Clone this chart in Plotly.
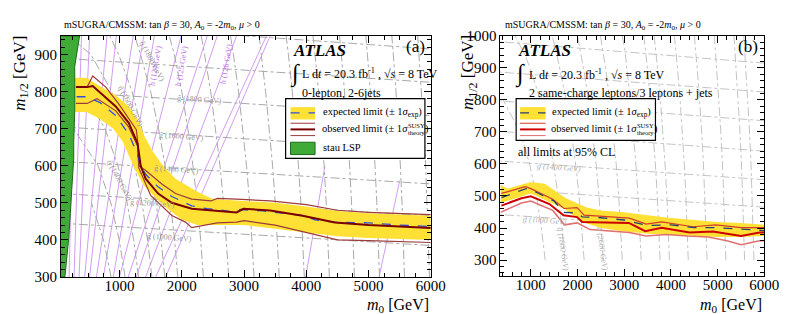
import plotly.graph_objects as go

W, H = 789, 314

# ---------------- Panel (a) data ----------------
a_exp_m0 = [310, 470, 680, 940, 1150, 1290, 1340, 1420, 1620, 1840, 2160, 2410, 2570, 2790, 2940, 3310, 3940, 4140, 4460, 4990, 5510, 6000]
a_exp_m12 = [786, 786, 771, 735, 685, 630, 600, 577, 543, 517, 492, 484, 482, 476, 482, 478, 466, 454, 448, 446, 440, 436]
a_bandup_m0 = [280, 470, 680, 940, 1150, 1300, 1400, 1530, 1700, 1900, 2250, 2500, 3000, 3500, 4000, 4500, 5000, 5500, 6000]
a_bandup_m12 = [837, 837, 815, 790, 760, 722, 680, 640, 600, 565, 530, 510, 505, 500, 490, 478, 472, 468, 465]
a_banddn_m0 = [280, 470, 680, 900, 1050, 1150, 1250, 1400, 1600, 1800, 2000, 2250, 2500, 3000, 3500, 4000, 4500, 5000, 5500, 6000]
a_banddn_m12 = [745, 745, 727, 700, 665, 630, 590, 545, 510, 480, 455, 440, 440, 440, 432, 420, 410, 405, 402, 400]
a_obs_m0 = [300, 480, 570, 700, 940, 1150, 1290, 1340, 1420, 1620, 1840, 2160, 2470, 2880, 2990, 3420, 3940, 4460, 5000, 5510, 6000]
a_obs_m12 = [812, 812, 815, 795, 760, 715, 660, 600, 565, 525, 500, 484, 479, 474, 484, 479, 465, 447, 440, 436, 432]
a_obsup_m0 = [300, 480, 570, 780, 990, 1150, 1270, 1300, 1310, 1420, 1680, 1900, 2160, 2470, 2570, 2880, 3420, 4000, 4500, 5000, 5510, 6000]
a_obsup_m12 = [812, 812, 842, 812, 766, 727, 697, 653, 600, 587, 551, 525, 510, 505, 512, 510, 505, 495, 480, 474, 471, 468]
a_obsdn_m0 = [300, 480, 640, 940, 1150, 1290, 1310, 1500, 1840, 2060, 2160, 2410, 2570, 2880, 3000, 3500, 4000, 4500, 5000, 5510, 6000]
a_obsdn_m12 = [768, 768, 781, 748, 704, 653, 594, 520, 466, 448, 433, 441, 446, 448, 452, 440, 420, 400, 398, 395, 393]
a_stau_m0 = [359, 281, 281, 265, 265, 233, 186, 123]
a_stau_m12 = [950, 868, 748, 663, 620, 535, 407, 300]

# Higgs mass contours (purple), [bottom, top] points
a_h_m0 = [[110, 155], [190, 280], [270, 390], [350, 520], [440, 800], [520, 950], [630, 1220], [740, 1390], [900, 1560], [1000, 1990], [1140, 2410], [1270, 2570], [1420, 2880], [1580, 3360], [1740, 3420], [3990, 4300], [5170, 5500]]
a_h_m12 = [[300, 950]] * 15 + [[300, 600], [300, 560]]
a_h_lab = [(1580, 870, "h (124 GeV)"), (2000, 870, "h (125 GeV)"), (2720, 875, "h (126 GeV)")]

# gluino iso-mass contours (grey dash-dot), [m0=60, m0=6000]
gl_m0 = [[60, 6000]] * 7
gl_m12 = [[445, 385], [525, 465], [612, 551], [705, 640], [800, 735], [890, 825], [985, 915]]
a_gl_lab = [(1800, 407, "1000"), (1530, 497, "1200"), (1910, 590, "1400"), (2000, 680, "1600"), (2280, 778, "1800")]
b_gl_lab = [(1300, 425, "1000"), (1600, 590, "1400")]

# squark iso-mass contours (grey dash-dot): m0 points at given m12 values
sq_m12 = [300, 400, 500, 600, 700, 800, 900, 950, 1000]
sq_curves = {
    1000: [865, 743, 548, None, None, None, None, None, None],
    1200: [1090, 995, 860, 656, 262, None, None, None, None],
    1400: [1307, 1227, 1122, 974, 767, 410, None, None, None],
    1600: [1520, 1451, 1361, 1240, 1086, 877, 540, 183, None],
    1800: [1728, 1667, 1587, 1485, 1359, 1202, 986, 844, 663],
    2000: [1936, 1885, 1817, 1732, 1627, 1500, 1338, 1245, 1095],
    2200: [2142, 2096, 2034, 1958, 1867, 1757, 1620, 1545, 1458],
    2400: [2347, 2304, 2248, 2180, 2097, 2000, 1880, 1796, 1720],
    2600: [2551, 2512, 2460, 2398, 2322, 2236, 2127, 2066, 2000],
    2800: [2755, 2719, 2672, 2614, 2545, 2465, 2366, 2322, 2260],
    3000: [2958, 2925, 2882, 2828, 2764, 2690, 2600, 2550, 2490],
    3200: [3161, 3130, 3090, 3040, 2980, 2912, 2830, 2793, 2735],
    3400: [3363, 3334, 3296, 3250, 3195, 3131, 3055, 3020, 2960],
    3600: [3565, 3538, 3502, 3459, 3407, 3347, 3276, 3244, 3190],
    3800: [3767, 3741, 3708, 3667, 3619, 3562, 3495, 3465, 3420],
    4000: [3968, 3944, 3913, 3874, 3829, 3776, 3713, 3671, 3640],
    4400: [4371, 4349, 4320, 4286, 4245, 4197, 4140, 4103, 4075],
    4800: [4774, 4753, 4727, 4696, 4658, 4614, 4563, 4530, 4505],
    5200: [5176, 5157, 5133, 5104, 5069, 5029, 4982, 4954, 4930],
    5600: [5577, 5560, 5538, 5511, 5479, 5441, 5398, 5374, 5350],
    5800: [5778, 5761, 5740, 5714, 5683, 5647, 5605, 5581, 5560],
    6000: [5979, 5962, 5942, 5917, 5887, 5852, 5812, 5790, 5770],
}
a_sq_masses = [1000, 1200, 1400, 1600, 1800, 2000, 2400, 2800, 3200, 3600, 4000, 4400, 4800, 5200, 5600, 6000]
a_sq_lab = [(1000, 560, "1400"), (1180, 760, "1600"), (1520, 880, "1800")]
b_sq_masses = [1400, 1800, 2200, 2600, 3000, 3400, 3800, 4000, 4400, 4800, 5200, 5600, 5800]
b_sq_lab = [(1680, 335, "1800"), (2520, 335, "2600")]

# ---------------- Panel (b) data ----------------
b_exp_m0 = [370, 900, 1000, 1500, 1700, 2000, 2100, 2500, 3000, 3500, 4000, 4500, 5000, 5500, 6000]
b_exp_m12 = [495, 523, 520, 484, 449, 447, 435, 432, 425, 408, 410, 401, 401, 396, 392]
b_bandup_m0 = [350, 500, 1000, 1300, 1750, 2200, 2500, 3000, 3500, 4000, 4500, 5000, 5500, 6000]
b_bandup_m12 = [535, 523, 544, 538, 493, 464, 455, 449, 440, 431, 425, 419, 416, 410]
b_banddn_m0 = [350, 1000, 1700, 2100, 2500, 3000, 3500, 4000, 4500, 5000, 5500, 6000]
b_banddn_m12 = [478, 508, 461, 419, 400, 389, 382, 378, 375, 372, 372, 375]
b_obs_m0 = [370, 800, 1000, 1400, 1700, 1990, 2100, 3100, 3450, 3800, 4400, 4900, 5500, 5900, 6000]
b_obs_m12 = [470, 493, 499, 475, 440, 434, 419, 416, 390, 401, 386, 389, 375, 386, 386]
b_obsup_m0 = [370, 880, 1000, 1470, 1710, 1990, 2140, 3110, 3470, 3800, 4470, 4960, 5500, 6000]
b_obsup_m12 = [508, 529, 523, 490, 461, 464, 440, 431, 412, 419, 404, 410, 401, 401]
b_obsdn_m0 = [350, 800, 1000, 1470, 1720, 1990, 2270, 3110, 3470, 3900, 4350, 4800, 5200, 5500, 5900, 6000]
b_obsdn_m12 = [449, 478, 484, 455, 410, 416, 395, 386, 375, 380, 375, 372, 360, 348, 360, 360]

FONT = "Liberation Serif"
YEL = "#ffe135"
GRAY_A = "#a8a8a8"
GRAY_B = "#c4c4c4"
PURP = "#d49cf2"

fig = go.Figure()


def line(x, y, xa, ya, color, width, dash="solid", fill=None, fillcolor=None):
    fig.add_trace(go.Scatter(x=x, y=y, xaxis=xa, yaxis=ya, mode="lines",
                             line=dict(color=color, width=width, dash=dash),
                             fill=fill, fillcolor=fillcolor, hoverinfo="skip",
                             showlegend=False, cliponaxis=True))


def squark(mass):
    pts = [(m0, m12) for m0, m12 in zip(sq_curves[mass], sq_m12) if m0 is not None]
    return [p[0] for p in pts], [p[1] for p in pts]


# ---- panel (a) background ----
for xs, ys in zip(a_h_m0, a_h_m12):
    line(xs, ys, "x", "y", PURP, 1)
for xs, ys in zip(gl_m0, gl_m12):
    line(xs, ys, "x", "y", GRAY_A, 1, "dashdot")
for m in a_sq_masses:
    xs, ys = squark(m)
    line(xs, ys, "x", "y", GRAY_A, 1, "dashdot")

# band + curves
line(a_bandup_m0 + a_banddn_m0[::-1], a_bandup_m12 + a_banddn_m12[::-1], "x", "y",
     "rgba(0,0,0,0)", 0, fill="toself", fillcolor=YEL)
line(a_obsup_m0, a_obsup_m12, "x", "y", "#9c3b3b", 1.2)
line(a_obsdn_m0, a_obsdn_m12, "x", "y", "#9c3b3b", 1.2)
line(a_exp_m0, a_exp_m12, "x", "y", "#2f4fe0", 1.3, "dash")
line(a_obs_m0, a_obs_m12, "x", "y", "#7a0000", 2)
line([60] + a_stau_m0 + [60], [950] + a_stau_m12 + [300], "x", "y", "#1d6b1d", 1,
     fill="toself", fillcolor="#3faa35")

# ---- panel (b) background ----
for xs, ys in zip(gl_m0, gl_m12):
    line(xs, ys, "x2", "y2", GRAY_B, 1, "dashdot")
for m in b_sq_masses:
    xs, ys = squark(m)
    line(xs, ys, "x2", "y2", GRAY_B, 1, "dashdot")
line(b_bandup_m0 + b_banddn_m0[::-1], b_bandup_m12 + b_banddn_m12[::-1], "x2", "y2",
     "rgba(0,0,0,0)", 0, fill="toself", fillcolor=YEL)
line(b_obsup_m0, b_obsup_m12, "x2", "y2", "#d23a2a", 1.2)
line(b_obsdn_m0, b_obsdn_m12, "x2", "y2", "#e07070", 1.5)
line(b_exp_m0, b_exp_m12, "x2", "y2", "#23406e", 1.3, "dash")
line(b_obs_m0, b_obs_m12, "x2", "y2", "#cc0000", 2)

ax_common = dict(showline=True, linecolor="black", linewidth=1, mirror="ticks",
                 ticks="inside", ticklen=7, tickcolor="black", showgrid=False,
                 zeroline=False, tickfont=dict(family=FONT, size=15, color="black"))


def px2x(p):
    return p / W


def py2y(p):
    return 1 - p / H


fig.update_layout(
    width=W, height=H, margin=dict(l=0, r=0, t=0, b=0),
    paper_bgcolor="white", plot_bgcolor="white",
    font=dict(family=FONT, color="black"),
    xaxis=dict(domain=[px2x(54), px2x(431)], range=[60, 6000], anchor="y",
               tickvals=[1000, 2000, 3000, 4000, 5000, 6000], ticklabelstandoff=-5,
               minor=dict(ticks="inside", ticklen=4, dtick=250, tickcolor="black"), **ax_common),
    yaxis=dict(domain=[py2y(275), py2y(21)], range=[300, 950], anchor="x",
               tickvals=[300, 400, 500, 600, 700, 800, 900],
               minor=dict(ticks="inside", ticklen=4, dtick=20, tickcolor="black"), **ax_common),
    xaxis2=dict(domain=[px2x(502), px2x(771)], range=[350, 6000], anchor="y2",
                tickvals=[1000, 2000, 3000, 4000, 5000, 6000], ticklabelstandoff=-5,
                minor=dict(ticks="inside", ticklen=4, dtick=200, tickcolor="black"), **ax_common),
    yaxis2=dict(domain=[py2y(274), py2y(21)], range=[250, 1000], anchor="x2",
                tickvals=[300, 400, 500, 600, 700, 800, 900, 1000],
                minor=dict(ticks="inside", ticklen=4, dtick=20, tickcolor="black"), **ax_common),
)

ann = []


def text(px, py, s, size=12, xanchor="left", yanchor="middle", angle=0, color="black", pad=1):
    ann.append(dict(x=px2x(px), y=py2y(py), xref="paper", yref="paper", text=s,
                    showarrow=False, xanchor=xanchor, yanchor=yanchor, textangle=angle,
                    borderpad=pad, font=dict(family=FONT, size=size, color=color)))


def dtext(x, y, xr, yr, s, size, angle, color):
    ann.append(dict(x=x, y=y, xref=xr, yref=yr, text=s, showarrow=False,
                    xanchor="center", yanchor="middle", textangle=angle,
                    font=dict(family=FONT, size=size, color=color)))


# contour labels
for x, y, s in a_h_lab:
    dtext(x, y, "x", "y", s, 8, -80, "#c070e8")
for x, y, s in a_gl_lab:
    dtext(x, y, "x", "y", "g̃ (" + s + " GeV)", 8, 4, "#999999")
for x, y, s in a_sq_lab:
    dtext(x, y, "x", "y", "q̃ (" + s + " GeV)", 8, 62, "#999999")
for x, y, s in b_gl_lab:
    dtext(x, y, "x2", "y2", "<i>g̃ (" + s + " GeV)</i>", 8, 4, "#b0b0b0")
for x, y, s in b_sq_lab:
    dtext(x, y, "x2", "y2", "<i>q̃ (" + s + " GeV)</i>", 8, 82, "#b0b0b0")

hdr = "mSUGRA/CMSSM: tan <i>β</i> = 30, <i>A</i><sub>0</sub> = -2<i>m</i><sub>0</sub>, <i>μ</i> > 0"
text(55, 10, hdr, 10)
text(505, 10, hdr, 10)
text(13, 60, "<i>m</i><sub>1/2</sub> [GeV]", 17, "center", "middle", -90)
text(470, 60, "<i>m</i><sub>1/2</sub> [GeV]", 17, "center", "middle", -90)
text(431, 305, "<i>m</i><sub>0</sub> [GeV]", 16, "right", "middle")
text(771, 305, "<i>m</i><sub>0</sub> [GeV]", 16, "right", "middle")
text(427, 32, "(a)", 17, "right")
text(767, 32, "(b)", 17, "right")
text(288, 36, "<b><i>ATLAS</i></b>", 17)
text(518, 36, "<b><i>ATLAS</i></b>", 17)
lumi = "L d<i>t</i> = 20.3 fb<sup>-1</sup> , √<i>s</i> = 8 TeV"
text(285, 61, "∫", 24)
text(298, 61, lumi, 12)
text(515, 61, "∫", 24)
text(529, 62, lumi, 12)
text(298, 81, "0-lepton, 2-6jets", 12)
text(529, 81, "2 same-charge leptons/3 leptons + jets", 12)
text(518, 143, "all limits at 95% CL", 12)

shapes = []


def rect(x0, y0, x1, y1, fill, lc="black", lw=1):
    shapes.append(dict(type="rect", xref="paper", yref="paper", x0=px2x(x0), x1=px2x(x1),
                       y0=py2y(y1), y1=py2y(y0), fillcolor=fill, line=dict(color=lc, width=lw)))


def seg(x0, x1, y, color, w, dash="solid"):
    shapes.append(dict(type="line", xref="paper", yref="paper", x0=px2x(x0), x1=px2x(x1),
                       y0=py2y(y), y1=py2y(y), line=dict(color=color, width=w, dash=dash)))


LS = 10.5


def obs_label(x0, y):
    text(x0, y, "observed limit (± 1<i>σ</i>", LS, pad=0)
    text(x0 + 87.5, y - 4, "SUSY", 6.5, pad=0)
    text(x0 + 87.5, y + 3.5, "theory", 6.5, pad=0)
    text(x0 + 105, y, ")", LS, pad=0)


rect(283, 87, 425, 150, "white", "black", 1.2)
rect(288, 96, 313, 109, YEL, YEL, 0)
seg(288, 313, 102, "#2f4fe0", 1.3, "dash")
seg(288, 313, 113, "#9c3b3b", 1)
seg(288, 313, 119.5, "#7a0000", 2)
seg(288, 313, 126, "#9c3b3b", 1)
rect(288, 133, 313, 146, "#3faa35", "#1d6b1d", 1)
text(319, 102, "expected limit (± 1<i>σ</i><sub>exp</sub>)", LS)
obs_label(319, 119)
text(319, 139, "stau LSP", LS)

rect(518, 87, 660, 131, "white", "black", 1.2)
rect(522, 96, 548, 109, YEL, YEL, 0)
seg(522, 548, 102, "#23406e", 1.3, "dash")
seg(522, 548, 113, "#d23a2a", 1)
seg(522, 548, 119.5, "#cc0000", 2)
seg(522, 548, 126, "#e07070", 1)
text(553, 102, "expected limit (± 1<i>σ</i><sub>exp</sub>)", LS)
obs_label(553, 119)

fig.update_layout(annotations=ann, shapes=shapes)
fig.write_html("out.html")
